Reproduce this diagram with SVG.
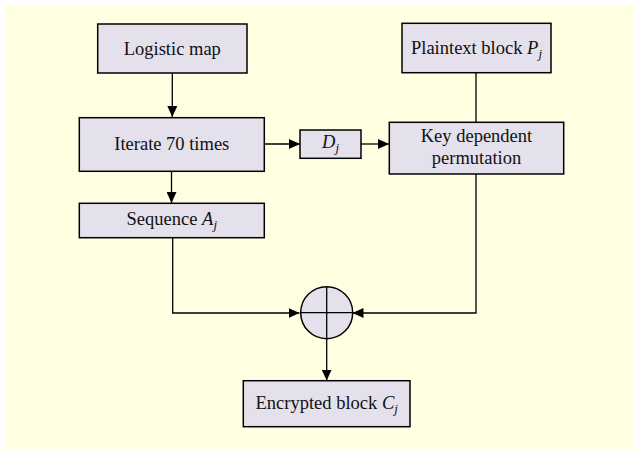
<svg xmlns="http://www.w3.org/2000/svg" width="633" height="450" viewBox="0 0 633 450">
<style>
.box{fill:#E4E0EC;stroke:#000;stroke-width:1.5}
.t{font-family:"Liberation Serif","Times New Roman",serif;font-size:18.5px;fill:#111;text-anchor:middle}
.i{font-style:italic}
.sub{font-style:italic;font-size:13px}
.c{fill:none;stroke:#000;stroke-width:1.3}
</style>
<defs>
<marker id="ah" markerWidth="12" markerHeight="10" refX="11" refY="5" orient="auto" markerUnits="userSpaceOnUse">
<path d="M0,0 L11,5 L0,10 Z" fill="#000"/>
</marker>
</defs>
<rect x="5.5" y="5" width="628" height="444" fill="#FFFFE1"/>
<g id="connectors">
<line class="c" x1="172.3" y1="73" x2="172.3" y2="117" marker-end="url(#ah)"/>
<line class="c" x1="171.5" y1="171.3" x2="171.5" y2="203" marker-end="url(#ah)"/>
<line class="c" x1="264.3" y1="144" x2="300" y2="144" marker-end="url(#ah)"/>
<line class="c" x1="361" y1="144" x2="389" y2="144" marker-end="url(#ah)"/>
<line class="c" x1="476" y1="72.7" x2="476" y2="122.3"/>
<polyline class="c" points="172.7,237.7 172.7,313 299.5,313" marker-end="url(#ah)"/>
<polyline class="c" points="476,174 476,313 352.5,313" marker-end="url(#ah)"/>
<line class="c" x1="326.7" y1="338.5" x2="326.7" y2="380.5" marker-end="url(#ah)"/>
</g>
<g id="logistic">
<rect class="box" x="97.7" y="24" width="149.3" height="49"/>
<text class="t" x="172.3" y="55">Logistic map</text>
</g>
<g id="iterate">
<rect class="box" x="79.3" y="117.7" width="185" height="53.6"/>
<text class="t" x="171.8" y="150">Iterate 70 times</text>
</g>
<g id="sequence">
<rect class="box" x="79.3" y="203.3" width="185" height="34.4"/>
<text class="t" x="171.8" y="225">Sequence <tspan class="i">A</tspan><tspan class="sub" dy="4">j</tspan></text>
</g>
<g id="dj">
<rect class="box" x="300" y="130" width="61" height="28.3"/>
<text class="t" x="330.5" y="148"><tspan class="i">D</tspan><tspan class="sub" dy="4">j</tspan></text>
</g>
<g id="plaintext">
<rect class="box" x="402" y="23.3" width="149" height="49.4"/>
<text class="t" x="476.5" y="54">Plaintext block <tspan class="i">P</tspan><tspan class="sub" dy="4">j</tspan></text>
</g>
<g id="keyperm">
<rect class="box" x="389.3" y="122.3" width="174.4" height="51.7"/>
<text class="t" x="476.5" y="141.7">Key dependent</text>
<text class="t" x="476.5" y="163.5">permutation</text>
</g>
<g id="xor">
<circle class="box" cx="326.7" cy="312.7" r="26"/>
<line class="c" x1="326.7" y1="286.7" x2="326.7" y2="338.7"/>
<line class="c" x1="300.7" y1="312.7" x2="352.7" y2="312.7"/>
</g>
<g id="encrypted">
<rect class="box" x="243.3" y="380.7" width="166.7" height="46"/>
<text class="t" x="326.7" y="409">Encrypted block <tspan class="i">C</tspan><tspan class="sub" dy="4">j</tspan></text>
</g>
</svg>
